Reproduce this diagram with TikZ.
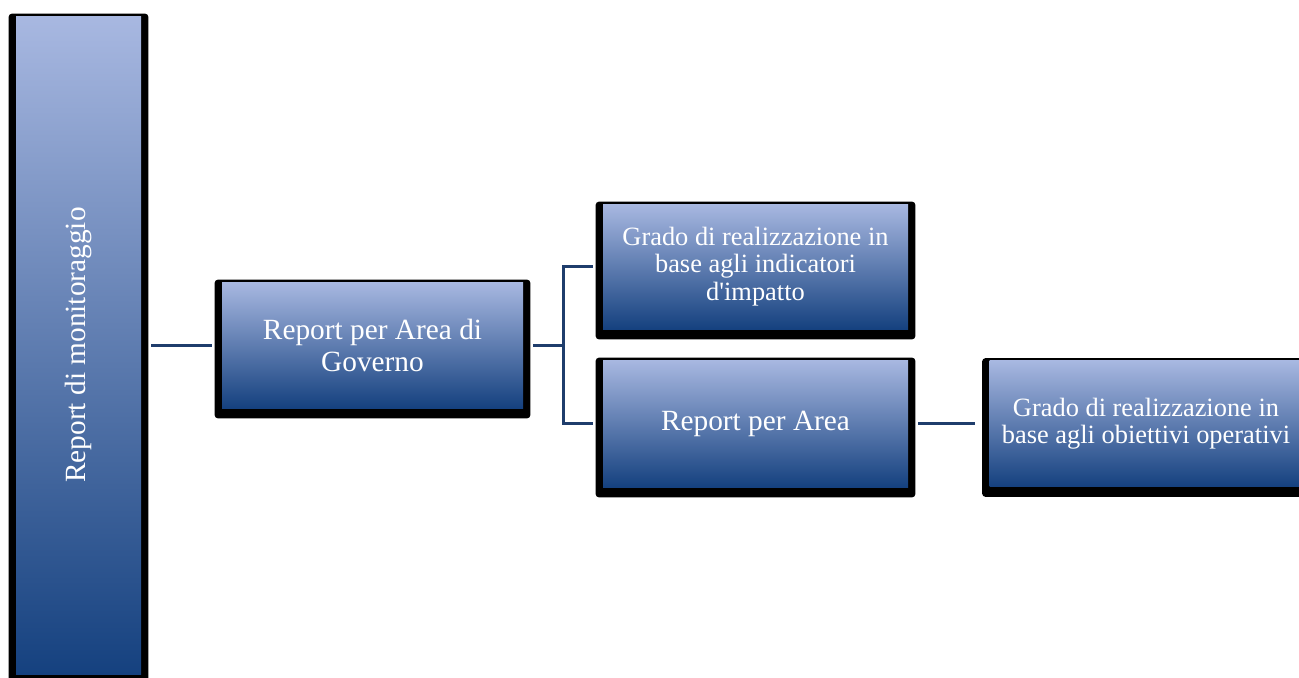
\documentclass[tikz,border=0pt]{standalone}
\usepackage{fontspec}
\setmainfont{Liberation Serif}
\usetikzlibrary{backgrounds}

\definecolor{boxtop}{RGB}{168,184,225}
\definecolor{boxbottom}{RGB}{21,65,127}
\definecolor{linkblue}{RGB}{31,61,108}

\begin{document}
\begin{tikzpicture}[x=0.75pt, y=-0.75pt,
        box/.style={rectangle, inner sep=2pt, align=center, text=white, top color=boxtop, bottom color=boxbottom, font={\fontsize{22}{24}\selectfont}},
        smallbox/.style={box, font={\fontsize{19.8}{20.6}\selectfont}},
        link/.style={draw=linkblue, line width=2.25pt, shorten <=7.5pt, shorten >=7pt}]

    \useasboundingbox (0,0) rectangle (1299,678);

    % Caselle
    \node (mon) [box, minimum width=93.75pt, minimum height=493.5pt] at (78.5,345) {\rotatebox{90}{Report di monitoraggio}};
    \node (gov) [box, minimum width=225.75pt, minimum height=94.5pt] at (372.5,345) {Report per Area di\\Governo};
    \node (imp) [smallbox, minimum width=228.75pt, minimum height=93.75pt] at (755.5,266.5) {Grado di realizzazione in\\base agli indicatori\\d\textquotesingle impatto};
    \node (area) [box, minimum width=228.75pt, minimum height=95.25pt] at (755.5,423.5) {Report per Area};
    \node (obj) [smallbox, minimum width=234.75pt, minimum height=94.5pt] at (1146,423.5) {Grado di realizzazione in\\base agli obiettivi operativi};

    % Ombre nere
    \begin{scope}[on background layer]
        \foreach \n in {mon,gov,imp,area,obj}
            \fill[black, rounded corners=2.25pt] ([shift={(-7,-2)}]\n.north west) rectangle ([shift={(7,10)}]\n.south east);
    \end{scope}

    % Collegamenti
    \draw[link] (mon.east) -- (gov.west);
    \draw[link] (gov.east) -- ++(40,0) |- (imp.west);
    \draw[link] (gov.east) -- ++(40,0) |- (area.west);
    \draw[link, shorten >=10.5pt] (area.east) -- (obj.west);
\end{tikzpicture}
\end{document}
